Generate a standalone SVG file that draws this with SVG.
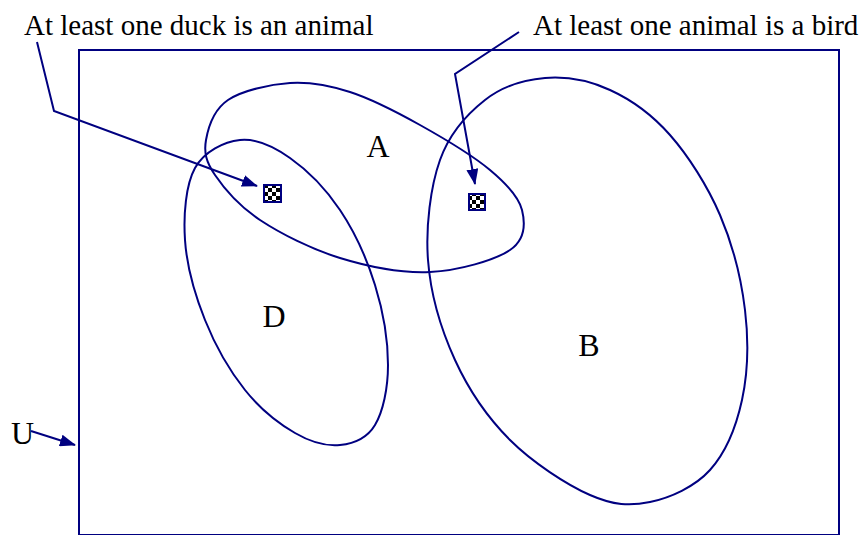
<svg xmlns="http://www.w3.org/2000/svg" width="865" height="535" viewBox="0 0 865 535">
<style>
.ln{fill:none;stroke:#000080;stroke-width:2}
.lbl{font-family:"Liberation Serif","Times New Roman",serif;font-size:32px;fill:#000}
.big{font-family:"Liberation Serif","Times New Roman",serif;font-size:29px;fill:#000}
.box{fill:url(#chk);stroke:#000080;stroke-width:2}
</style>
<defs>
<marker id="ah" markerWidth="16" markerHeight="12" refX="15" refY="6" orient="auto" markerUnits="userSpaceOnUse">
<path d="M0,0 L16,6 L0,12 z" fill="#000080"/>
</marker>
<pattern id="chk" width="8" height="8" patternUnits="userSpaceOnUse">
<rect width="8" height="8" fill="#fff"/>
<rect width="4" height="4" fill="#000"/>
<rect x="4" y="4" width="4" height="4" fill="#000"/>
</pattern>
</defs>
<rect id="universe" class="ln" x="79" y="50" width="760" height="485"/>
<g id="setA">
<path class="ln" d="M206,140 C208.2,127.5 214,109.5 228,100 C242,90.5 269.7,84.3 290,83 C310.3,81.7 328.3,85 350,92 C371.7,99 396.7,112 420,125 C443.3,138 473,155.8 490,170 C507,184.2 518.7,196.7 522,210 C525.3,223.3 525.3,239.7 510,250 C494.7,260.3 458.3,270.7 430,272 C401.7,273.3 368.3,266.7 340,258 C311.7,249.3 280.8,233.8 260,220 C239.2,206.2 224,188.3 215,175 C206,161.7 203.8,152.5 206,140 Z"/>
<text class="lbl" x="378" y="157" text-anchor="middle">A</text>
</g>
<g id="setD">
<path class="ln" d="M240,140 C255.8,138.3 273.3,146.3 290,158 C306.7,169.7 325.8,188.8 340,210 C354.2,231.2 367,259.2 375,285 C383,310.8 388,341.7 388,365 C388,388.3 383,411.7 375,425 C367,438.3 353.3,443.7 340,445 C326.7,446.3 310.8,442.2 295,433 C279.2,423.8 260,408.8 245,390 C230,371.2 215,345 205,320 C195,295 186.7,265.3 185,240 C183.3,214.7 185.8,184.7 195,168 C204.2,151.3 224.2,141.7 240,140 Z"/>
<text class="lbl" x="274" y="327" text-anchor="middle">D</text>
</g>
<g id="setB">
<path class="ln" d="M545,78 C565.8,76.3 589.2,80.5 610,90 C630.8,99.5 651.7,114.2 670,135 C688.3,155.8 707.5,185.8 720,215 C732.5,244.2 741.3,279.2 745,310 C748.7,340.8 747.8,373.3 742,400 C736.2,426.7 725.3,453 710,470 C694.7,487 670,497.8 650,502 C630,506.2 613.3,505.3 590,495 C566.7,484.7 532.5,462.5 510,440 C487.5,417.5 468.7,390 455,360 C441.3,330 430.5,293.3 428,260 C425.5,226.7 430.5,186.7 440,160 C449.5,133.3 467.5,113.7 485,100 C502.5,86.3 524.2,79.7 545,78 Z"/>
<text class="lbl" x="589" y="356" text-anchor="middle">B</text>
</g>
<g id="point1">
<rect class="box" x="264" y="185" width="17" height="17"/>
</g>
<g id="point2">
<rect class="box" x="469" y="194" width="16" height="16"/>
</g>
<g id="label1">
<text class="big" x="24" y="35">At least one duck is an animal</text>
</g>
<g id="label2">
<text class="big" x="533" y="35">At least one animal is a bird</text>
</g>
<g id="labelU">
<text class="lbl" x="11" y="444">U</text>
</g>
<g id="connectors">
<polyline class="ln" points="37,42 54,111 257,186" marker-end="url(#ah)"/>
<polyline class="ln" points="519,32 455,74 475,184" marker-end="url(#ah)"/>
<line class="ln" x1="31" y1="431" x2="75" y2="445" marker-end="url(#ah)"/>
</g>
</svg>
